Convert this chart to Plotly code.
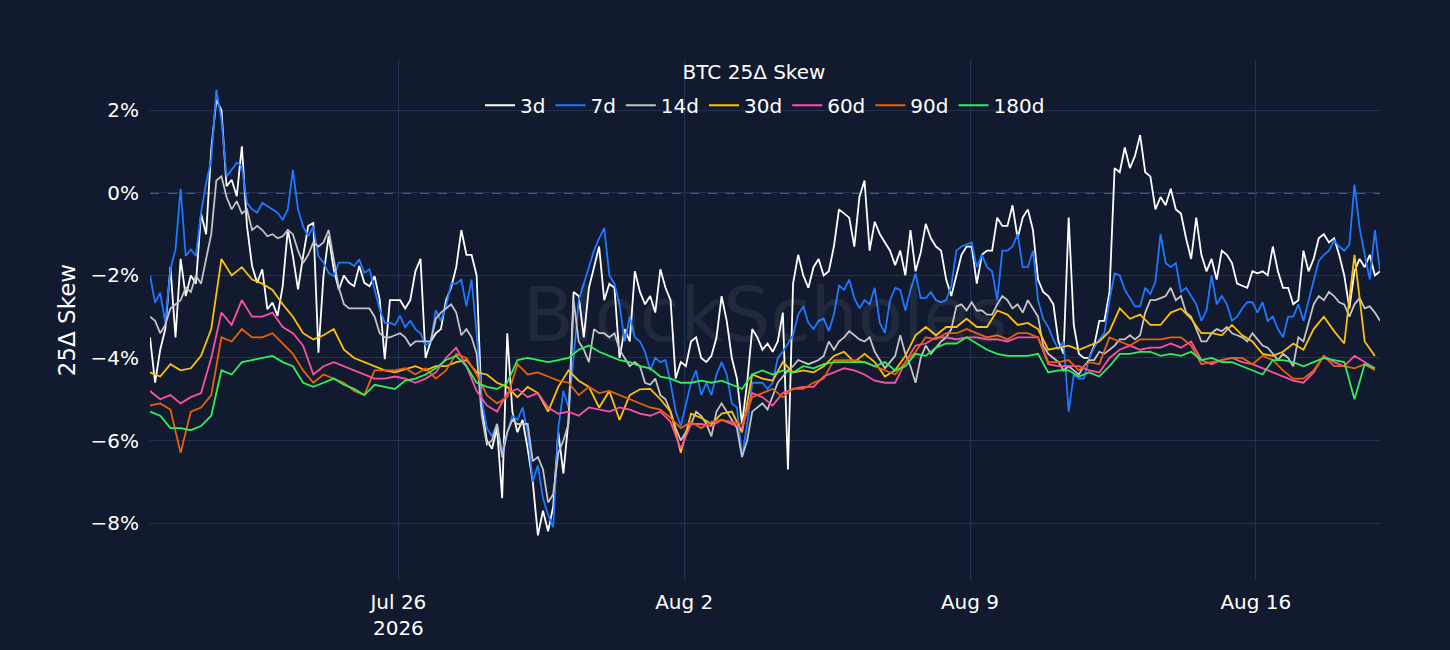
import pandas as pd
import plotly.graph_objects as go

# ---------------- data (values in %) ----------------
START = "2026-07-19 22:00"

skew_3d = [
    -3.5, -4.6, -3.8, -3.3, -1.8, -3.5, -1.6, -2.5, -2.0, -2.2,
    -0.5, -1.0, 1.05, 2.26, 2.0, 0.16, 0.32, -0.08, 1.13, -0.8,
    -1.77, -2.18, -1.85, -2.82, -2.66, -2.98, -2.26, -0.89, -1.53, -2.34,
    -1.53, -0.8, -0.73, -3.87, -2.0, -1.05, -1.85, -2.34, -2.0, -2.18,
    -2.26, -1.77, -2.18, -2.26, -2.02, -2.58, -4.03,
    -2.6, -2.6, -2.6, -2.8, -2.6, -1.9, -1.6, -4.0, -3.6, -3.4,
    -3.3, -2.6, -2.3, -1.8, -0.9, -1.5, -1.5, -2.0, -5.2, -6.0,
    -6.2, -5.7, -7.4, -3.4, -5.3, -5.8, -5.5, -6.2, -7.0, -8.3,
    -7.7, -8.2, -7.6, -5.8, -6.8, -5.5, -2.4, -2.5, -3.5, -2.3,
    -1.8, -1.3, -2.6, -2.2, -2.3, -4.0, -3.3, -3.6, -1.9, -2.4,
    -2.7, -2.5, -2.9, -1.85, -2.3, -2.6, -4.5, -4.1, -4.2, -3.6,
    -3.5, -4.0, -4.1, -3.95, -3.5, -2.5, -3.1, -4.0, -4.5, -5.6,
    -4.6, -3.3, -3.5, -3.8, -3.65, -3.85, -3.6, -2.9, -6.7, -2.2,
    -1.5, -2.0, -2.3, -1.8, -1.6, -2.0, -1.9, -1.3, -0.4, -0.5,
    -0.6, -1.3, -0.1, 0.3, -1.4, -0.7, -1.0, -1.2, -1.4, -1.75,
    -1.4, -2.0, -0.9, -1.9, -1.45, -0.75, -1.1, -1.3, -1.4, -2.1,
    -2.5, -2.0, -1.5, -1.3, -1.3, -2.2, -1.5, -1.4, -1.4, -0.6,
    -0.8, -0.8, -0.3, -1.1, -0.6, -0.4, -0.9, -2.1, -2.4, -2.5,
    -2.7, -3.6, -3.9, -0.6, -3.2, -3.9, -4.0, -4.0, -3.7, -3.1,
    -3.1, -2.4, 0.6, 0.5, 1.1, 0.6, 0.9, 1.4, 0.5, 0.4,
    -0.4, -0.1, -0.3, 0.1, -0.4, -0.5, -1.1, -1.6, -0.6, -1.5,
    -1.9, -1.6, -2.1, -1.4, -1.5, -1.7, -2.2, -2.25, -2.3, -1.9,
    -1.95, -1.9, -2.0, -1.3, -1.9, -2.3, -2.3, -2.7, -2.6, -1.4,
    -1.9, -1.6, -1.1, -1.0, -1.2, -1.1, -1.5, -2.0, -2.8, -1.9,
    -1.6, -1.8, -1.5, -2.0, -1.9,
]

skew_7d = [
    -2.0, -2.66, -2.42, -3.15, -1.85, -1.37, 0.1, -1.53, -1.37, -1.53,
    -0.48, 0.24, 0.8, 2.5, 1.77, 0.4, 0.56, 0.73, 0.65, -0.24,
    -0.4, -0.48, -0.24, -0.32, -0.4, -0.48, -0.65, -0.4, 0.56, -0.4,
    -0.81, -1.05, -0.81, -1.53, -1.69, -1.94, -2.02, -1.69, -1.69, -1.69,
    -1.77, -1.61, -1.94, -1.85, -2.34, -2.82, -3.15,
    -3.15, -3.2, -2.98, -3.25, -3.1, -3.3, -3.4, -3.7, -3.6, -2.85,
    -3.1, -2.75, -2.2, -2.2, -2.1, -2.75, -2.1, -3.4, -5.0, -5.7,
    -5.9, -5.6, -6.3, -5.8, -5.4, -5.5, -5.2, -5.8, -7.0, -6.6,
    -7.4, -7.8, -8.1, -5.7, -4.8, -5.2, -4.0, -2.6, -2.2, -1.8,
    -1.4, -1.1, -0.85, -2.0, -2.2, -2.7, -3.6, -3.0, -3.5, -3.6,
    -3.85, -4.3, -4.0, -4.1, -4.05, -4.6, -5.3, -5.65, -5.1, -4.6,
    -4.3, -4.9, -4.6, -4.9, -4.4, -4.1, -4.4, -5.1, -5.2, -6.4,
    -5.6, -4.6, -4.6, -4.6, -4.75, -4.6, -4.0, -3.85, -3.65, -3.45,
    -2.95, -2.75, -3.15, -3.3, -3.1, -3.05, -3.35, -2.95, -2.25, -2.35,
    -2.1, -2.55, -2.8, -2.6, -2.7, -2.3, -3.15, -3.4, -2.6, -2.3,
    -2.35, -2.85, -2.35, -1.95, -2.55, -2.55, -2.4, -2.6, -2.65, -2.6,
    -2.25, -1.4, -1.3, -1.25, -1.2, -1.8, -1.5, -1.8, -1.9, -2.6,
    -1.4, -1.4, -1.3, -1.0, -1.8, -1.8, -1.4, -2.6, -3.05, -3.25,
    -3.55, -3.8, -3.6, -5.3, -4.4, -4.5, -4.5, -4.0, -3.75, -3.55,
    -3.4, -2.6, -1.95, -2.0, -2.35, -2.55, -2.75, -2.75, -2.3, -2.45,
    -2.15, -1.0, -1.7, -1.8, -1.7, -2.4, -2.3, -2.5, -2.7, -3.1,
    -2.85, -2.0, -2.7, -2.5, -2.7, -3.1, -3.0, -2.8, -2.65, -2.65,
    -2.9, -2.65, -3.1, -3.0, -3.3, -3.5, -3.0, -3.0, -2.7, -3.1,
    -2.6, -2.1, -1.65, -1.5, -1.4, -1.15, -1.3, -1.4, -1.25, 0.2,
    -0.85, -1.5, -2.1, -0.9, -1.9,
]

skew_14d = [
    -3.0, -3.1, -3.4, -3.2, -2.8, -2.7, -2.6, -2.3, -2.4, -2.0,
    -2.2, -1.6, -1.0, 0.3, 0.4, -0.1, -0.4, -0.2, -0.5, -0.4,
    -0.9, -0.8, -0.9, -1.05, -1.0, -1.1, -1.05, -0.9, -1.0, -1.4,
    -1.7, -1.5, -1.2, -1.3, -1.2, -0.9, -1.6, -2.3, -2.7, -2.8,
    -2.8, -2.8, -2.8, -2.8, -3.0, -3.4, -3.5,
    -3.5, -3.45, -3.4, -3.5, -3.7, -3.6, -3.6, -3.6, -3.6, -3.05,
    -2.9, -2.8, -2.7, -2.9, -3.45, -3.3, -3.5, -3.9, -5.4, -6.1,
    -6.0, -5.6, -6.4, -5.8, -5.5, -5.6, -5.6, -5.6, -6.5, -6.4,
    -6.7, -7.5, -7.3, -6.3, -6.0, -5.6, -2.6, -3.6, -3.8, -4.1,
    -3.3, -3.4, -3.4, -3.5, -3.4, -3.8, -4.0, -4.2, -4.1, -4.2,
    -4.6, -4.65, -4.5, -4.9, -5.0, -5.3, -5.7, -6.0, -5.8, -5.6,
    -5.3, -5.4, -5.6, -5.9, -5.3, -5.1, -5.3, -5.5, -5.7, -6.4,
    -6.0, -5.3, -5.2, -5.1, -5.25, -4.9, -4.6, -4.45, -4.3, -4.2,
    -4.05, -4.1, -4.15, -4.1, -4.05, -3.95, -3.6, -3.8, -3.6, -3.5,
    -3.35, -3.45, -3.55, -3.6, -3.5, -3.85, -4.05, -4.25, -4.1, -3.95,
    -3.45, -3.9, -4.2, -4.6, -4.0, -3.7, -3.9, -3.75, -3.6, -3.5,
    -3.3, -2.75, -2.7, -2.85, -2.65, -2.85, -2.85, -2.95, -2.95, -2.7,
    -2.5, -2.6, -2.8, -2.7, -2.9, -2.6, -2.8, -3.0, -3.7, -3.9,
    -4.0, -4.1, -4.3, -4.2, -4.3, -4.4, -4.2, -4.05, -4.05, -3.85,
    -3.9, -3.8, -3.7, -3.55, -3.55, -3.45, -3.55, -3.45, -2.9, -2.6,
    -2.6, -2.55, -2.5, -2.3, -2.6, -2.5, -2.9, -3.0, -3.3, -3.6,
    -3.6, -3.4, -3.3, -3.35, -3.25, -3.4, -3.45, -3.5, -3.6, -3.4,
    -3.55, -3.7, -3.75, -3.9, -4.05, -3.9, -4.0, -4.2, -3.5, -3.6,
    -3.15, -2.7, -2.5, -2.6, -2.4, -2.5, -2.65, -2.7, -3.0, -2.7,
    -2.55, -2.8, -2.75, -2.9, -3.1,
]

skew_30d = [
    -4.35, -4.45, -4.15, -4.3, -4.25, -3.95, -3.3, -1.6, -2.0, -1.8,
    -2.1, -2.2, -2.35, -2.7, -3.0, -3.4, -3.55, -3.45, -3.3, -3.8,
    -4.0, -4.1, -4.2, -4.3,
    -4.35, -4.28, -4.2, -4.3, -4.2, -4.2, -4.1, -4.05, -4.35, -4.4,
    -4.6, -4.7, -4.95, -4.7, -4.85, -5.3, -4.7, -4.3, -4.55, -4.7,
    -5.2, -4.8, -5.5, -4.9,
    -4.76, -4.75, -5.0, -5.3, -6.3, -5.35, -5.45, -5.6, -5.35, -5.3,
    -5.8, -4.4, -4.5, -4.55, -4.1, -4.35, -4.3, -4.35, -4.2, -3.95,
    -3.85, -4.1, -3.9, -4.1, -4.45,
    -4.3, -3.95, -3.45, -3.25, -3.45, -3.25, -3.25, -3.05, -3.25, -3.25,
    -2.85, -2.95, -3.2, -3.15, -3.3, -3.8, -3.75, -3.7, -3.8, -3.7,
    -3.6, -3.35, -2.8, -3.05, -2.95, -3.2,
    -3.2, -2.9, -2.8, -3.05, -3.4, -3.4, -3.45, -3.2, -3.45, -3.6,
    -3.9, -3.95, -3.85, -3.65, -3.8, -3.3, -3.0, -3.35, -3.65, -1.5,
    -3.6, -3.95,
]

skew_60d = [
    -4.8, -5.0, -4.9, -5.1, -4.95, -4.85, -4.0, -2.9, -3.2, -2.6,
    -3.0, -3.0, -2.9, -3.25, -3.4, -3.7, -4.4, -4.2, -4.1, -4.2,
    -4.3, -4.4, -4.5, -4.5,
    -4.45, -4.5, -4.6, -4.5, -4.35, -4.0, -3.75, -4.2, -4.8, -5.15,
    -5.3, -4.85, -4.75, -4.95, -4.85, -5.2, -5.35, -5.3, -5.4, -5.2,
    -5.25, -5.3, -5.2, -5.25,
    -5.35, -5.4, -5.3, -5.55, -6.2, -5.6, -5.6, -5.65, -5.5, -5.6,
    -5.7, -4.85, -4.95, -5.15, -4.85, -4.75, -4.7, -4.7, -4.45, -4.35,
    -4.25, -4.3, -4.4, -4.55, -4.6,
    -4.6, -4.1, -3.7, -3.65, -3.5, -3.5, -3.55, -3.5, -3.5, -3.55,
    -3.55, -3.6, -3.5, -3.5, -3.5, -4.15, -4.2, -4.2, -4.2, -4.3,
    -4.35, -4.0, -3.8, -3.7, -3.8, -3.75,
    -3.75, -3.65, -3.75, -3.6, -4.05, -4.15, -4.05, -4.0, -4.1, -4.15,
    -4.25, -4.35, -4.45, -4.55, -4.6, -4.35, -3.95, -4.1, -4.2, -3.95,
    -4.1, -4.25,
]

skew_90d = [
    -5.15, -5.1, -5.25, -6.3, -5.3, -5.2, -4.9, -3.5, -3.6, -3.3,
    -3.5, -3.5, -3.4, -3.65, -3.9, -4.3, -4.6, -4.4, -4.5, -4.6,
    -4.8, -4.9, -4.3, -4.3,
    -4.3, -4.25, -4.4, -4.25, -4.5, -4.3, -3.9, -4.0, -4.4, -4.9,
    -5.1, -4.95, -4.15, -4.4, -4.35, -4.45, -4.55, -4.6, -4.9, -4.7,
    -4.85, -4.8, -4.9, -5.0,
    -5.1, -5.2, -5.25, -5.45, -5.7, -5.55, -5.7, -5.55, -5.5, -5.55,
    -5.6, -4.95, -4.85, -4.75, -4.95, -4.75, -4.75, -4.6, -4.5, -4.05,
    -4.05, -4.05, -4.1, -4.2, -4.3,
    -4.4, -4.1, -3.85, -3.5, -3.55, -3.4, -3.4, -3.3, -3.4, -3.5,
    -3.45, -3.55, -3.4, -3.4, -3.5, -4.1, -4.1, -4.05, -4.3, -4.1,
    -4.15, -3.5, -3.6, -3.7, -3.55, -3.55,
    -3.55, -3.5, -3.5, -3.7, -4.15, -4.1, -4.05, -4.0, -4.0, -4.15,
    -3.95, -4.05, -4.3, -4.5, -4.5, -4.3, -3.95, -4.2, -4.2, -4.25,
    -4.15, -4.3,
]

skew_180d = [
    -5.3, -5.4, -5.7, -5.7, -5.75, -5.65, -5.4, -4.3, -4.4, -4.1,
    -4.05, -4.0, -3.95, -4.1, -4.2, -4.6, -4.7, -4.6, -4.5, -4.65,
    -4.75, -4.9, -4.65, -4.7,
    -4.75, -4.55, -4.5, -4.4, -4.25, -4.05, -3.95, -4.2, -4.6, -4.7,
    -4.75, -4.6, -4.05, -4.0, -4.05, -4.1, -4.05, -4.0, -3.8, -3.7,
    -3.85, -3.95, -4.05, -4.1,
    -4.2, -4.25, -4.45, -4.5, -4.6, -4.6, -4.55, -4.6, -4.55, -4.65,
    -4.75, -4.4, -4.3, -4.4, -4.3, -4.35, -4.2, -4.25, -4.15, -4.1,
    -4.1, -4.1, -4.1, -4.2, -4.1,
    -4.3, -4.2, -3.9, -3.95, -3.75, -3.65, -3.65, -3.5, -3.65, -3.8,
    -3.9, -3.95, -3.95, -3.95, -3.9, -4.35, -4.3, -4.3, -4.45, -4.35,
    -4.45, -4.2, -3.9, -3.9, -3.85, -3.85,
    -3.95, -3.9, -3.95, -3.85, -4.05, -4.0, -4.1, -4.1, -4.2, -4.3,
    -4.4, -4.05, -4.05, -4.1, -4.2, -4.1, -4.0, -4.05, -4.1, -5.0,
    -4.15, -4.25,
]

series_names = ["3d", "7d", "14d", "30d", "60d", "90d", "180d"]
series_values = [skew_3d, skew_7d, skew_14d, skew_30d, skew_60d, skew_90d, skew_180d]
series_freq = ["3h", "3h", "3h", "6h", "6h", "6h", "6h"]
series_colors = ["#ffffff", "#1f78ff", "#c4c4c4", "#ffc107", "#ff4fa3", "#e8620c", "#2ef058"]

y_tick_vals = [-8, -6, -4, -2, 0, 2]
y_tick_text = ["\u22128%", "\u22126%", "\u22124%", "\u22122%", "0%", "2%"]
x_tick_vals = ["2026-07-26", "2026-08-02", "2026-08-09", "2026-08-16"]
x_tick_text = ["Jul 26<br>2026", "Aug 2", "Aug 9", "Aug 16"]

# ---------------- figure ----------------
BG = "#111a2e"
GRID = "#233253"
FONT = "DejaVu Sans"

fig = go.Figure()
for name, vals, freq, col in zip(series_names, series_values, series_freq, series_colors):
    xs = pd.date_range(START, periods=len(vals), freq=freq)
    fig.add_trace(go.Scatter(x=xs, y=vals, mode="lines", name=name,
                             line=dict(color=col, width=1.8)))

fig.add_hline(y=0, line=dict(color="#8f98ab", width=1.2, dash="dash"), layer="below")

fig.add_annotation(text="BlockScholes", x=0.5, y=0.51, xref="paper", yref="paper",
                   showarrow=False, font=dict(family=FONT, size=74, color="rgba(255,255,255,0.07)"))

fig.update_layout(
    width=1450, height=650,
    paper_bgcolor=BG, plot_bgcolor=BG,
    margin=dict(l=150, r=70, t=60, b=70),
    font=dict(family=FONT, size=20, color="#ffffff"),
    title=dict(text="BTC 25Δ Skew", x=754 / 1450, xref="container", xanchor="center",
               y=1 - 72 / 650, yref="container", yanchor="middle",
               font=dict(family=FONT, size=20, color="#ffffff")),
    legend=dict(orientation="h", x=0.5, xanchor="center", y=0.913, yanchor="middle",
                bgcolor="rgba(0,0,0,0)", font=dict(family=FONT, size=20, color="#ffffff")),
    showlegend=True,
)
fig.update_xaxes(
    range=["2026-07-19 22:00", "2026-08-19 01:00"],
    tickvals=x_tick_vals, ticktext=x_tick_text,
    showgrid=True, gridcolor=GRID, gridwidth=1, zeroline=False, showline=False,
    ticks="outside", ticklen=4, tickcolor=BG, automargin=False,
    tickfont=dict(family=FONT, size=20, color="#ffffff"),
)
fig.update_yaxes(
    range=[-9.38, 3.22],
    tickvals=y_tick_vals, ticktext=y_tick_text,
    showgrid=True, gridcolor=GRID, gridwidth=1, zeroline=False, showline=False,
    ticks="outside", ticklen=6, tickcolor=BG, automargin=False,
    title=dict(text="25Δ Skew", font=dict(family=FONT, size=23, color="#ffffff"), standoff=8),
    tickfont=dict(family=FONT, size=20, color="#ffffff"),
)

fig.write_html("out.html", config={"displayModeBar": False},
               post_script="document.body.style.margin='0';document.body.style.background='#111a2e';")
